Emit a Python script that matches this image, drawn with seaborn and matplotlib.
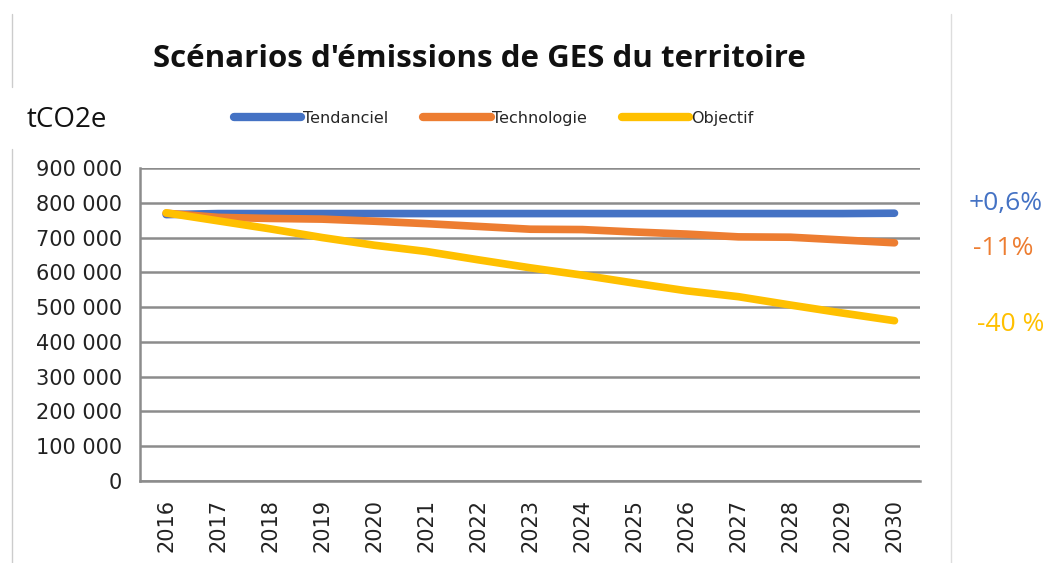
import matplotlib.pyplot as plt
import numpy as np
import pandas as pd
import seaborn as sns
from matplotlib.lines import Line2D
from matplotlib.ticker import FuncFormatter, MultipleLocator

years = list(range(2016, 2031))
tendanciel = [766000, 769000, 769000, 769000, 769000, 769000, 769000, 769000,
              769000, 769000, 769000, 769000, 769000, 769000, 770000]
technologie = [770000, 758000, 755000, 753000, 747000, 740000, 732000, 724000,
               723000, 716000, 710000, 702000, 701000, 693000, 685000]
objectif = [771000, 748000, 725000, 700000, 678000, 660000, 636000, 613000,
            592000, 569000, 547000, 530000, 506000, 483000, 461000]
scenarios = ['Tendanciel', 'Technologie', 'Objectif']
colors = ['#4472C4', '#ED7D31', '#FFC000']
deltas = ['+0,6%', '-11%', '-40 %']

df = pd.DataFrame({
    'annee': years * 3,
    'valeur': tendanciel + technologie + objectif,
    'scenario': [s for s in scenarios for _ in years],
})

sns.set_style('white')
plt.rcParams['font.family'] = ['DejaVu Sans']

fig = plt.figure(figsize=(10.46, 5.63), dpi=100)
ax = fig.add_axes([0.134, 0.1456, 0.746, 0.556])

sns.lineplot(data=df, x='annee', y='valeur', hue='scenario', hue_order=scenarios,
             palette=colors, linewidth=5.5, solid_capstyle='round', legend=False, ax=ax)

ax.set_xlim(2015.5, 2030.5)
ax.set_ylim(0, 900000)
ax.yaxis.set_major_locator(MultipleLocator(100000))
ax.yaxis.set_major_formatter(FuncFormatter(lambda v, p: f'{int(v):,}'.replace(',', ' ')))
ax.set_xticks(years)
ax.set_xticklabels([str(y) for y in years], rotation=90)
ax.set_xticks(np.arange(2015.5, 2031, 1), minor=True)
ax.tick_params(axis='x', which='major', length=0, pad=13, labelsize=15, labelcolor='#222222')
ax.tick_params(axis='x', which='minor', length=8, width=1.5, color='#8c8c8c')
ax.tick_params(axis='y', length=7, width=1.5, color='#8c8c8c', labelsize=15,
               labelcolor='#222222', pad=6)
ax.grid(axis='y', color='#8c8c8c', linewidth=1.8)
ax.set_axisbelow(True)
ax.set_xlabel('')
ax.set_ylabel('')
for side in ['top', 'right']:
    ax.spines[side].set_visible(False)
for side in ['left', 'bottom']:
    ax.spines[side].set_color('#8c8c8c')
    ax.spines[side].set_linewidth(1.8)

fig.text(0.458, 0.895, "Scénarios d'émissions de GES du territoire", ha='center', va='center',
         fontsize=22.5, fontweight='bold', family='Open Sans', color='#111111')
fig.text(0.025, 0.787, 'tCO2e', ha='left', va='center', fontsize=20, family='Open Sans', color='#111111')

handles = [Line2D([0], [0], color=c, linewidth=6, solid_capstyle='round') for c in colors]
fig.legend(handles, scenarios, loc='center', bbox_to_anchor=(0.472, 0.79), ncol=3, frameon=False,
           fontsize=11.5, handlelength=4.2, handletextpad=0.1, columnspacing=2.2)

ypos = [0.638, 0.558, 0.423]
xpos = [0.961, 0.959, 0.966]
for d, c, x, y in zip(deltas, colors, xpos, ypos):
    fig.text(x, y, d, ha='center', va='center', fontsize=19, family='Open Sans', color=c)

fig.add_artist(Line2D([0.011, 0.011], [0.845, 0.975], color='#cccccc', linewidth=1))
fig.add_artist(Line2D([0.011, 0.011], [0.0, 0.735], color='#cccccc', linewidth=1))
fig.add_artist(Line2D([0.909, 0.909], [0.0, 0.975], color='#dddddd', linewidth=1))

fig.savefig('out.png', dpi=100)
